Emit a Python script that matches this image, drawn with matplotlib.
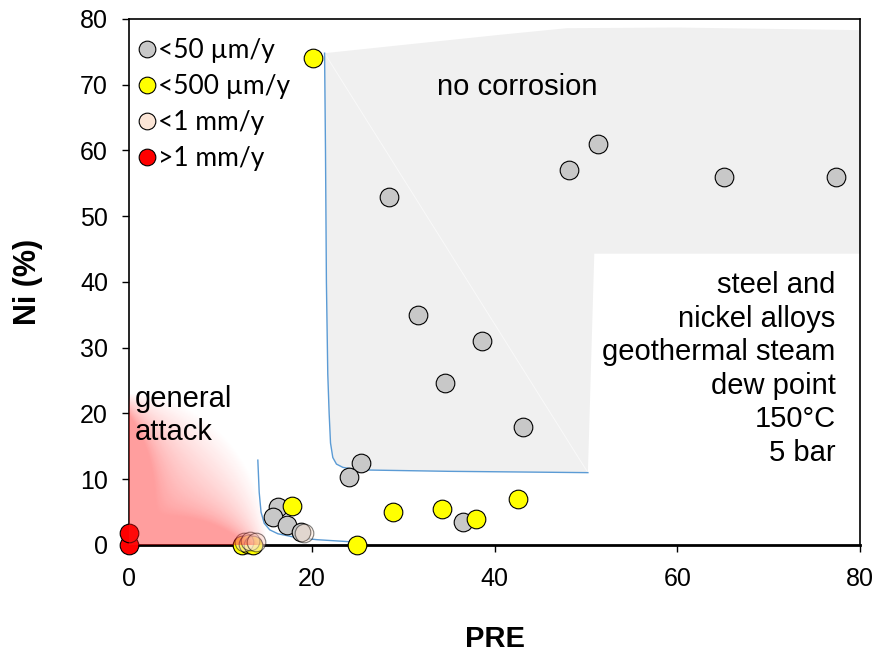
import numpy as np
import matplotlib.pyplot as plt
from matplotlib.patches import Polygon
from matplotlib.lines import Line2D

gray_x = [28.4, 48.1, 51.3, 65.1, 77.3, 31.6, 38.6, 34.6, 43.1, 25.4, 24.1, 36.5, 16.3, 15.8, 17.3, 18.8]
gray_y = [53.0, 57.0, 61.0, 56.0, 56.0, 35.0, 31.0, 24.7, 17.9, 12.5, 10.4, 3.5, 5.8, 4.2, 3.0, 1.9]

yellow_x = [20.1, 17.8, 25.0, 28.9, 34.2, 38.0, 42.6, 12.4, 13.0, 13.6]
yellow_y = [74.0, 5.9, 0.0, 5.0, 5.4, 4.0, 7.0, 0.0, 0.2, 0.0]

peach_x = [12.6, 13.2, 13.9, 19.1]
peach_y = [0.5, 0.6, 0.4, 1.8]

red_x = [0.0, 0.0]
red_y = [0.0, 1.8]

labels = ['<50 µm/y', '<500 µm/y', '<1 mm/y', '>1 mm/y']

# region outlines
upper_curve_x = [21.4, 21.5, 21.6, 21.75, 21.9, 22.05, 22.3, 22.7, 23.4, 24.5, 26.0, 35.0, 50.2]
upper_curve_y = [74.8, 60.0, 40.0, 26.0, 20.0, 15.5, 13.3, 12.3, 11.8, 11.55, 11.4, 11.2, 11.0]
top_edge_x = [21.4, 29.6, 40.6, 47.9, 60.0, 80.0]
top_edge_y = [74.8, 76.0, 77.6, 78.6, 78.7, 78.3]
notch_x = [80.0, 80.0, 50.9, 50.2]
notch_y = [78.3, 44.3, 44.3, 11.0]

lower_curve_x = [14.1, 14.25, 14.45, 14.8, 15.4, 16.3, 18.4, 20.6, 25.2]
lower_curve_y = [12.9, 8.0, 5.0, 3.3, 2.3, 1.7, 1.1, 0.8, 0.4]

plt.rcParams['font.family'] = ['Liberation Sans', 'DejaVu Sans']

fig = plt.figure(figsize=(8.77, 6.55), dpi=100)
ax = fig.add_axes([0.147, 0.168, 0.834, 0.803])
ax.set_xlim(0, 80)
ax.set_ylim(0, 80)

# no corrosion area
outline = list(zip(top_edge_x, top_edge_y)) + list(zip(notch_x, notch_y)) + \
    list(zip(upper_curve_x[::-1], upper_curve_y[::-1]))
ax.add_patch(Polygon(outline, closed=True, facecolor='#f0f0f0', edgecolor='none', zorder=1))
ax.plot([upper_curve_x[0], upper_curve_x[-1]], [upper_curve_y[0], upper_curve_y[-1]],
        color='white', lw=0.7, alpha=0.6, zorder=1.5)

ax.plot(upper_curve_x, upper_curve_y, color='#5b9bd5', lw=1, zorder=2)
ax.plot(lower_curve_x, lower_curve_y, color='#5b9bd5', lw=1, zorder=2)

# general attack gradient, soft towards the upper right
gx, gy = np.meshgrid(np.linspace(0, 16, 300), np.linspace(0, 25, 300))
u = gx / 15.0
v = gy / 23.0
r = np.sqrt(u**2 + v**2)
theta = np.arctan2(v, u)
width = 0.14 + 0.55 * np.sin(2 * theta)
alpha = 0.42 * np.clip((1 - r) / width, 0, 1)
rgba = np.zeros(gx.shape + (4,))
rgba[..., 0] = 1.0
rgba[..., 1] = 0.1
rgba[..., 2] = 0.1
rgba[..., 3] = alpha
ax.imshow(rgba, extent=[0, 16, 0, 25], origin='lower', aspect='auto', zorder=4,
          interpolation='bilinear')

ms = 180
kw = dict(edgecolors='black', linewidths=0.8, clip_on=False)
ax.scatter(gray_x, gray_y, s=ms, c='#c8c8c8', zorder=3, **kw)
ax.scatter(yellow_x, yellow_y, s=ms, c='#ffff00', zorder=3, **kw)
ax.scatter(peach_x, peach_y, s=ms, c='#fbe5d6', alpha=0.5, zorder=3, **kw)
ax.scatter(red_x, red_y, s=ms, c='#ff0000', zorder=3, **kw)

handles = [Line2D([], [], ls='none', marker='o', ms=12, mfc=c, mec='black', mew=0.8)
           for c in ['#c8c8c8', '#ffff00', '#fbe5d6', '#ff0000']]
leg = ax.legend(handles, labels, loc='upper left', bbox_to_anchor=(-0.012, 0.994),
                frameon=False, handlelength=0.8, handletextpad=0.05, labelspacing=0.42,
                borderaxespad=0.2, prop={'family': 'Lato', 'size': 19})
leg.set_zorder(6)

ax.text(42.5, 69.7, 'no corrosion', fontsize=21, ha='center', va='center', zorder=5)
ax.text(0.6, 24.3, 'general\nattack', fontsize=21, ha='left', va='top',
        linespacing=1.2, zorder=6)
ax.text(77.3, 41.6, 'steel and\nnickel alloys\ngeothermal steam\ndew point\n150°C\n5 bar',
        fontsize=21, ha='right', va='top', linespacing=1.25, zorder=5)

ax.set_xticks([0, 20, 40, 60, 80])
ax.set_yticks(np.arange(0, 81, 10))
ax.tick_params(direction='out', length=5, width=1, labelsize=18)
ax.tick_params(axis='x', pad=11)
ax.tick_params(axis='y', pad=10)
for s in ax.spines.values():
    s.set_linewidth(1.2)
ax.spines['bottom'].set_linewidth(2)

ax.set_xlabel('PRE', fontsize=21, fontweight='bold')
ax.set_ylabel('Ni (%)', fontsize=22, fontweight='bold')
ax.xaxis.set_label_coords(0.5, -0.152)
ax.yaxis.set_label_coords(-0.117, 0.5)

fig.savefig('out.png', dpi=100)
